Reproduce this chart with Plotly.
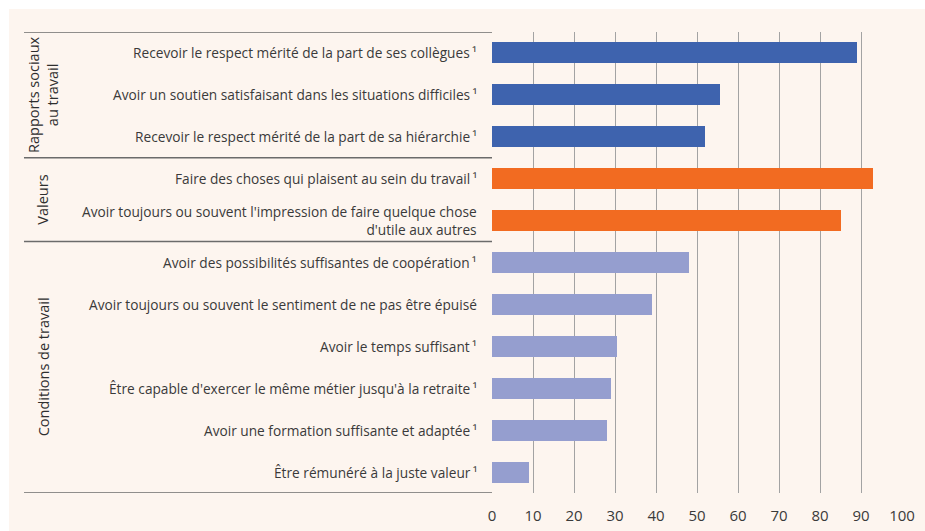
import plotly.graph_objects as go

categories = [
    "Recevoir le respect mérité de la part de ses collègues\u2009¹",
    "Avoir un soutien satisfaisant dans les situations difficiles\u2009¹",
    "Recevoir le respect mérité de la part de sa hiérarchie\u2009¹",
    "Faire des choses qui plaisent au sein du travail\u2009¹",
    "Avoir toujours ou souvent l'impression de faire quelque chose<br>d'utile aux autres",
    "Avoir des possibilités suffisantes de coopération\u2009¹",
    "Avoir toujours ou souvent le sentiment de ne pas être épuisé",
    "Avoir le temps suffisant\u2009¹",
    "Être capable d'exercer le même métier jusqu'à la retraite\u2009¹",
    "Avoir une formation suffisante et adaptée\u2009¹",
    "Être rémunéré à la juste valeur\u2009¹",
]
values = [89, 55.5, 52, 93, 85, 48, 39, 30.5, 29, 28, 9]
groups = ["rapports"] * 3 + ["valeurs"] * 2 + ["conditions"] * 6
group_labels = {
    "rapports": "Rapports sociaux<br>au travail",
    "valeurs": "Valeurs",
    "conditions": "Conditions de travail",
}
group_colors = {"rapports": "#3e63ae", "valeurs": "#f26b21", "conditions": "#959ecf"}
x_ticks = [0, 10, 20, 30, 40, 50, 60, 70, 80, 90, 100]

FONT = "Open Sans"
TEXT = "#3a3a3a"
CREAM = "#fdf5ef"

idx = list(range(len(categories)))
fig = go.Figure(go.Bar(
    x=values, y=idx, orientation="h",
    marker=dict(color=[group_colors[g] for g in groups], line=dict(width=0)),
    width=0.5, hoverinfo="x",
))

# category labels
annotations = []
for i, c in enumerate(categories):
    annotations.append(dict(
        x=0, xref="paper", y=i, yref="y", text=c, showarrow=False,
        xanchor="right", align="right", xshift=-13,
        font=dict(family=FONT, size=13.7, color=TEXT),
    ))

# group labels & separators
shapes = []
order = []
for g in groups:
    if g not in order:
        order.append(g)
bounds = [-0.5]
for g in order:
    n = groups.count(g)
    start = bounds[-1]
    end = start + n
    bounds.append(end)
    annotations.append(dict(
        x=-1.095, xref="paper", y=(start + end) / 2, yref="y",
        text=group_labels[g], textangle=-90, showarrow=False,
        xanchor="center", yanchor="middle",
        font=dict(family=FONT, size=14.5, color="#2e2e2e"),
    ))
for b in bounds:
    shapes.append(dict(type="line", xref="paper", yref="y",
                       x0=-1.1415, x1=0, y0=b, y1=b,
                       line=dict(color="#6b6b6b", width=1.5)))

# cream background panel (white strip at top/left)
shapes.append(dict(type="rect", xref="paper", yref="paper",
                   x0=(9 - 492) / 410, x1=(925 - 492) / 410 + 0.01,
                   y0=-38 / 461 - 0.01, y1=1 + 23 / 461,
                   fillcolor=CREAM, line=dict(width=0), layer="below"))

fig.update_layout(
    width=925, height=531,
    margin=dict(l=492, r=23, t=32, b=38, autoexpand=False),
    paper_bgcolor="white", plot_bgcolor="rgba(0,0,0,0)",
    showlegend=False, bargap=0,
    annotations=annotations, shapes=shapes,
    xaxis=dict(range=[0, 100], tickvals=x_ticks, ticktext=[str(t) for t in x_ticks],
               showgrid=True, gridcolor="#a3a3a3", gridwidth=1,
               zeroline=False, showline=False, ticks="", automargin=False,
               tickfont=dict(family=FONT, size=15, color=TEXT), ticklabelstandoff=12),
    yaxis=dict(range=[10.5, -0.5], showticklabels=False, showgrid=False,
               zeroline=False, showline=False, ticks="", automargin=False),
)

fig.write_html(
    "out.html",
    config={"displayModeBar": False},
    post_script="document.body.style.margin='0';document.body.style.overflow='hidden';",
)
